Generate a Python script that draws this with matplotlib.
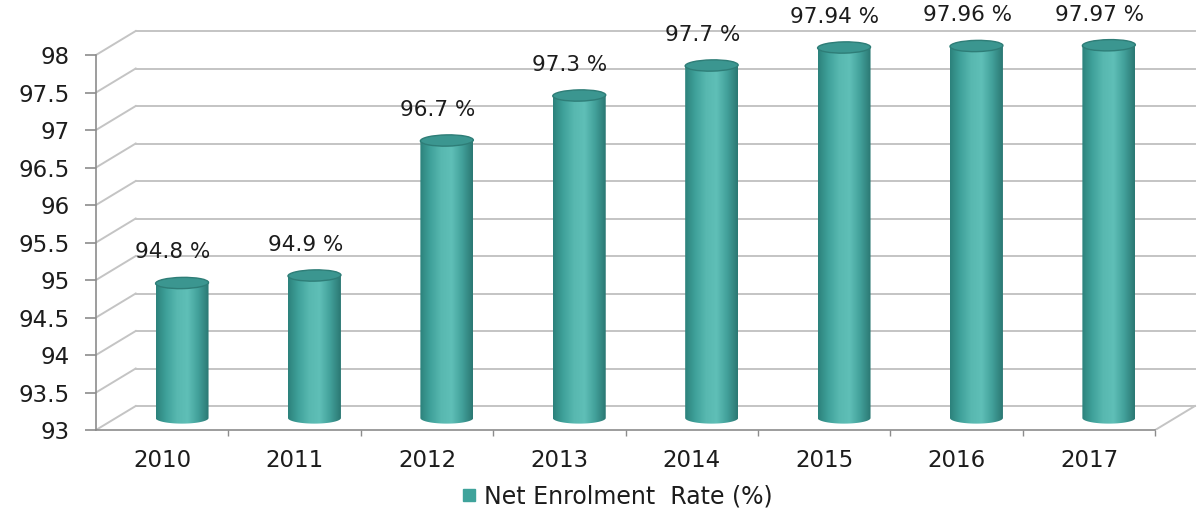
import numpy as np
import matplotlib.pyplot as plt
from matplotlib.patches import Ellipse, Polygon
from matplotlib.lines import Line2D
from matplotlib.colors import LinearSegmentedColormap

years = ['2010', '2011', '2012', '2013', '2014', '2015', '2016', '2017']
rates = [94.8, 94.9, 96.7, 97.3, 97.7, 97.94, 97.96, 97.97]
labels = ['94.8 %', '94.9 %', '96.7 %', '97.3 %', '97.7 %', '97.94 %', '97.96 %', '97.97 %']
yticks = np.arange(93, 98.01, 0.5)

plt.rcParams['font.family'] = ['DejaVu Sans']

# fake 3d depth (in data units)
dx = 0.30
dy = 0.32
bar_w = 0.40
ell_h = 0.15
grid_c = '#c4c4c4'
text_c = '#1c1c1c'

fig = plt.figure(figsize=(11.98, 5.12), dpi=100)
ax = fig.add_axes([96 / 1198, 82 / 512, 1102 / 1198, 430 / 512])
ymin = 93
ax.set_xlim(-0.5, -0.5 + 1102 / 132.4)
ax.set_ylim(ymin, ymin + 430 / 75)

n = len(years)
x0, x1 = -0.5, n - 0.5

# back wall grid + left side wall diagonals
for v in yticks:
    ax.plot([x0 + dx, x1 + dx], [v + dy, v + dy], color=grid_c, lw=1.4, zorder=1)
    ax.plot([x0, x0 + dx], [v, v + dy], color=grid_c, lw=1.4, zorder=1)
# floor right edge
ax.plot([x1, x1 + dx], [ymin, ymin + dy], color=grid_c, lw=1.4, zorder=1)

# cylinders
cmap = LinearSegmentedColormap.from_list('cyl', ['#2c827c', '#40a29b', '#58b8b0', '#5fbfb7', '#42a09a', '#2b7873'])
grad = np.linspace(0, 1, 200).reshape(1, -1)
base = ymin + dy / 2
for i, v in enumerate(rates):
    xc = i + dx / 2
    top = v + dy / 2
    t = np.linspace(np.pi, 2 * np.pi, 60)
    xs = list(xc + bar_w / 2 * np.cos(t)) + [xc + bar_w / 2, xc - bar_w / 2]
    ys = list(base + ell_h / 2 * np.sin(t)) + [top, top]
    body = Polygon(np.column_stack([xs, ys]), closed=True, facecolor='none', edgecolor='none',
                   transform=ax.transData)
    ax.add_patch(body)
    im = ax.imshow(grad, cmap=cmap, aspect='auto', zorder=3,
                   extent=(xc - bar_w / 2, xc + bar_w / 2, base - ell_h, top + ell_h))
    im.set_clip_path(body)
    ax.add_patch(Ellipse((xc, top), bar_w, ell_h, angle=2, facecolor='#3b9690', edgecolor='#2e7d77',
                         lw=1.0, zorder=4))
    ax.text(i + 0.08, v + 0.57, labels[i], ha='center', va='center', fontsize=15.5, color=text_c)

ax.set_xlim(-0.5, -0.5 + 1102 / 132.4)
ax.set_ylim(ymin, ymin + 430 / 75)

# axes styling
for s in ['top', 'right']:
    ax.spines[s].set_visible(False)
ax.spines['left'].set_bounds(93, 98)
ax.spines['bottom'].set_bounds(x0, x1)
for s in ['left', 'bottom']:
    ax.spines[s].set_color('#8c8c8c')
    ax.spines[s].set_linewidth(1.2)

ax.set_yticks(yticks)
ax.set_yticklabels([f'{v:g}' for v in yticks])
ax.tick_params(axis='y', length=8, width=1.2, color='#8c8c8c', pad=11, labelsize=16.5, labelcolor=text_c)
ax.set_xticks(range(n))
ax.set_xticklabels(years)
ax.set_xticks(np.arange(0.5, n - 0.4, 1), minor=True)
ax.tick_params(axis='x', which='major', length=0, pad=14, labelsize=16.5, labelcolor=text_c)
ax.tick_params(axis='x', which='minor', length=4, width=1.0, color='#8c8c8c')

handle = Line2D([], [], marker='s', linestyle='none', markersize=9, color='#3fa39b')
fig.legend([handle], ['Net Enrolment  Rate (%)'], loc='center', bbox_to_anchor=(0.515, 0.031),
           frameon=False, fontsize=17, handlelength=0.7, handletextpad=0.3, labelcolor=text_c)

fig.savefig('out.png', dpi=100)
